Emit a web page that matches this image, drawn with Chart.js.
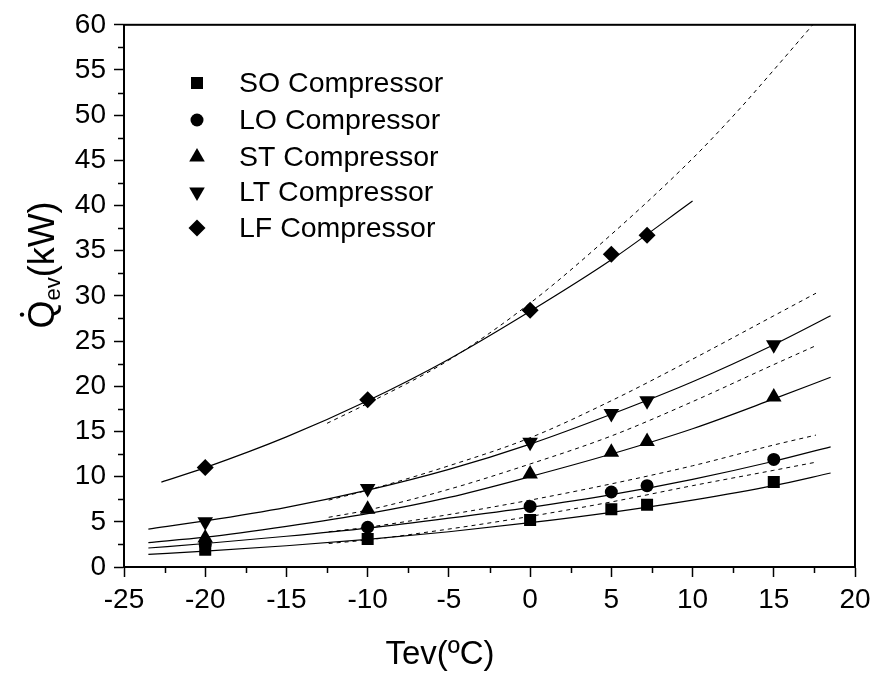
<!DOCTYPE html>
<html>
<head>
<meta charset="utf-8">
<script src="https://cdn.jsdelivr.net/npm/chart.js@4.4.1/dist/chart.umd.min.js"></script>
<style>
  html, body { margin: 0; padding: 0; background: #fff; }
</style>
</head>
<body>
<canvas id="qevChart" width="878" height="676"></canvas>
<script>
// evaporator capacity vs evaporating temperature, five compressors
const FONT = "'Liberation Sans', Arial, sans-serif";

// measured points
const tevMeasured = [-20, -10, 0, 5, 7.2, 15];
const soMeasured = [1.9, 3.1, 5.2, 6.4, 6.9, 9.4];
const loMeasured = [2.5, 4.4, 6.7, 8.3, 9.0, 11.9];
const stMeasured = [3.2, 6.4, 10.3, 12.7, 13.9, 18.8];
const ltMeasured = [5.0, 8.7, 13.8, 17.0, 18.4, 24.6];
const lfTev = [-20, -10, 0, 5, 7.2];
const lfMeasured = [11.0, 18.5, 28.4, 34.6, 36.7];

// fitted curves (solid)
const fitTev = [-23.5, -20, -15, -10, -5, 0, 5, 10, 15, 18.5];
const soFit = [1.4, 1.75, 2.35, 3.05, 3.9, 4.9, 6.05, 7.4, 9.0, 10.4];
const loFit = [2.1, 2.6, 3.4, 4.3, 5.4, 6.6, 8.0, 9.7, 11.7, 13.3];
const stFit = [2.7, 3.3, 4.5, 5.9, 7.7, 10.0, 12.5, 15.3, 18.6, 21.0];
const ltFit = [4.2, 5.1, 6.6, 8.5, 10.8, 13.6, 16.9, 20.5, 24.6, 27.8];
const lfFitTev = [-22.7, -20, -15, -10, -5, 0, 5, 10];
const lfFit = [9.4, 11.0, 14.4, 18.4, 23.0, 28.3, 34.0, 40.5];

// manufacturer curves (dashed)
const dashTev = [-12.4, -10, -5, 0, 5, 10, 15, 17.6];
const soDash = [2.6, 3.0, 4.2, 5.6, 7.2, 9.0, 10.7, 11.6];
const loDash = [3.9, 4.4, 5.8, 7.4, 9.2, 11.2, 13.5, 14.6];
const stDash = [5.5, 6.3, 8.6, 11.4, 14.5, 18.3, 22.4, 24.5];
const ltDash = [7.4, 8.5, 11.2, 14.3, 18.4, 23.0, 27.8, 30.3];
const lfDashTev = [-12.5, -10, -5, 0, 5, 10, 12.9, 15, 17.4];
const lfDash = [15.9, 18.1, 22.9, 29.2, 36.8, 45.2, 50.7, 55.0, 60.0];

const seriesNames = ['SO Compressor', 'LO Compressor', 'ST Compressor', 'LT Compressor', 'LF Compressor'];
const markerStyles = [
  { pointStyle: 'rect', radius: 8.5, rotation: 0 },
  { pointStyle: 'circle', radius: 6.5, rotation: 0 },
  { pointStyle: 'triangle', radius: 9, rotation: 0 },
  { pointStyle: 'triangle', radius: 9, rotation: 180 },
  { pointStyle: 'rectRot', radius: 8.5, rotation: 0 }
];

const xTicks = [-25, -20, -15, -10, -5, 0, 5, 10, 15, 20];
const yTicks = [0, 5, 10, 15, 20, 25, 30, 35, 40, 45, 50, 55, 60];

function pts(xs, ys) {
  return xs.map((x, i) => ({ x: x, y: ys[i] }));
}

function curve(xs, ys, dashed) {
  return {
    data: pts(xs, ys),
    showLine: true,
    borderColor: '#000',
    borderWidth: dashed ? 1 : 1.2,
    borderDash: dashed ? [4, 4] : [],
    pointRadius: 0,
    cubicInterpolationMode: 'monotone',
    fill: false
  };
}

function markers(xs, ys, k) {
  const m = markerStyles[k];
  return {
    data: pts(xs, ys),
    showLine: false,
    pointStyle: m.pointStyle,
    pointRadius: m.radius,
    pointRotation: m.rotation,
    pointBackgroundColor: '#000',
    pointBorderColor: '#000',
    pointBorderWidth: 0
  };
}

const datasets = [
  curve(fitTev, soFit), curve(fitTev, loFit), curve(fitTev, stFit), curve(fitTev, ltFit), curve(lfFitTev, lfFit),
  curve(dashTev, soDash, true), curve(dashTev, loDash, true), curve(dashTev, stDash, true),
  curve(dashTev, ltDash, true), curve(lfDashTev, lfDash, true),
  markers(tevMeasured, soMeasured, 0), markers(tevMeasured, loMeasured, 1),
  markers(tevMeasured, stMeasured, 2), markers(tevMeasured, ltMeasured, 3),
  markers(lfTev, lfMeasured, 4)
];

function drawMarker(ctx, m, x, y) {
  if (Chart.helpers && Chart.helpers.drawPoint) {
    ctx.fillStyle = '#000';
    ctx.strokeStyle = '#000';
    ctx.lineWidth = 0;
    Chart.helpers.drawPoint(ctx, { pointStyle: m.pointStyle, radius: m.radius, rotation: m.rotation, borderWidth: 0 }, x, y);
  }
}

// box frame, minor ticks, axis titles and the legend block
const decorations = {
  id: 'decorations',
  afterDraw(chart) {
    const { ctx, chartArea: a, scales } = chart;
    const sx = scales.x, sy = scales.y;
    ctx.save();
    ctx.strokeStyle = '#000';
    ctx.lineWidth = 2;
    ctx.strokeRect(a.left, a.top, a.right - a.left, a.bottom - a.top);

    ctx.lineWidth = 1.5;
    ctx.beginPath();
    for (let v = -22.5; v < 20; v += 5) {
      const px = Math.round(sx.getPixelForValue(v)) + 0.5;
      ctx.moveTo(px, a.bottom);
      ctx.lineTo(px, a.bottom + 6);
    }
    for (let v = 2.5; v < 60; v += 5) {
      const py = Math.round(sy.getPixelForValue(v)) + 0.5;
      ctx.moveTo(a.left, py);
      ctx.lineTo(a.left - 6, py);
    }
    ctx.stroke();

    // x title
    ctx.fillStyle = '#000';
    ctx.font = '33px ' + FONT;
    ctx.textAlign = 'center';
    ctx.textBaseline = 'alphabetic';
    ctx.fillText('Tev(ºC)', 440, 664);

    // y title: Q with overdot and "ev" subscript
    ctx.save();
    ctx.translate(54, 265);
    ctx.rotate(-Math.PI / 2);
    ctx.textAlign = 'left';
    const big = '36px ' + FONT, small = '22px ' + FONT;
    ctx.font = big;
    const wQ = ctx.measureText('Q').width;
    const wUnit = ctx.measureText('(kW)').width;
    ctx.font = small;
    const wSub = ctx.measureText('ev').width;
    let cx = -(wQ + wSub + wUnit) / 2;
    ctx.font = big;
    ctx.fillText('Q', cx, 0);
    ctx.beginPath();
    ctx.arc(cx + wQ / 2, -32, 2.2, 0, Math.PI * 2);
    ctx.fill();
    cx += wQ;
    ctx.font = small;
    ctx.fillText('ev', cx, 6);
    cx += wSub;
    ctx.font = big;
    ctx.fillText('(kW)', cx, 0);
    ctx.restore();

    // legend
    const rowsY = [83, 120, 157, 192, 228];
    ctx.font = '28.5px ' + FONT;
    ctx.textAlign = 'left';
    ctx.textBaseline = 'middle';
    seriesNames.forEach((name, i) => {
      drawMarker(ctx, markerStyles[i], 197, rowsY[i]);
      ctx.fillStyle = '#000';
      ctx.fillText(name, 239, rowsY[i] + 1);
    });
    ctx.restore();
  }
};

new Chart(document.getElementById('qevChart'), {
  type: 'scatter',
  data: { datasets: datasets },
  options: {
    responsive: false,
    animation: false,
    layout: { padding: { top: 23, right: 23, left: 0, bottom: 0 } },
    plugins: {
      legend: { display: false },
      tooltip: { enabled: false }
    },
    scales: {
      x: {
        type: 'linear',
        min: -25,
        max: 20,
        afterBuildTicks: (scale) => { scale.ticks = xTicks.map(v => ({ value: v })); },
        afterFit: (scale) => { scale.height = 109; },
        grid: { drawOnChartArea: false, tickLength: 10, tickColor: '#000', tickWidth: 1.5 },
        border: { display: true, color: '#000', width: 2 },
        ticks: { color: '#000', font: { family: FONT, size: 28 }, padding: 6, maxRotation: 0 }
      },
      y: {
        type: 'linear',
        min: 0,
        max: 60,
        afterBuildTicks: (scale) => { scale.ticks = yTicks.map(v => ({ value: v })); },
        afterFit: (scale) => { scale.width = 124; },
        grid: { drawOnChartArea: false, tickLength: 10, tickColor: '#000', tickWidth: 1.5 },
        border: { display: true, color: '#000', width: 2 },
        ticks: { color: '#000', font: { family: FONT, size: 28 }, padding: 8 }
      }
    }
  },
  plugins: [decorations]
});
</script>
</body>
</html>
